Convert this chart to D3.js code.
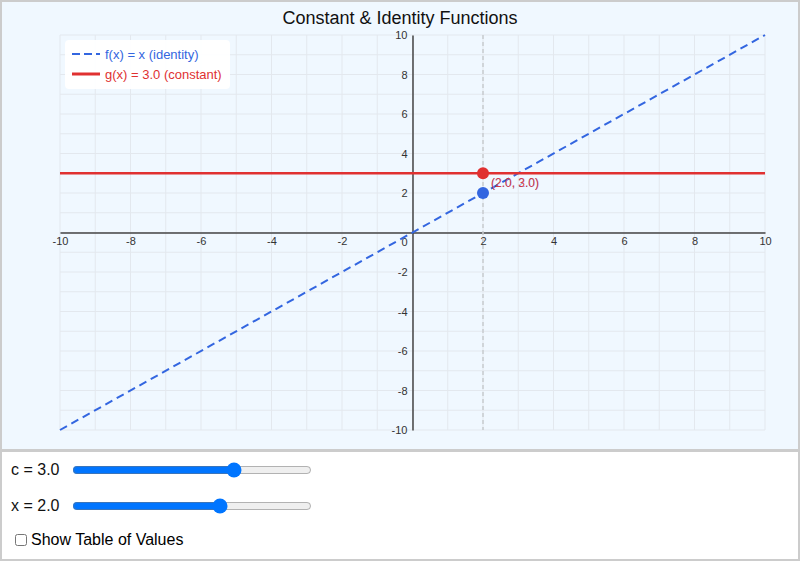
<!DOCTYPE html>
<html>
<head>
<meta charset="utf-8">
<script src="https://cdn.jsdelivr.net/npm/d3@7"></script>
<style>
  html, body { margin: 0; padding: 0; background: #fff; font-family: "Liberation Sans", Arial, Helvetica, sans-serif; }
  #wrap { width: 800px; }
  #chart { display: block; width: 800px; height: 451px; box-sizing: border-box; border: 2px solid #ccc; border-bottom-width: 2px; background: #f0f8ff; }
  #controls { width: 800px; height: 110px; box-sizing: border-box; border: 2px solid #ccc; border-top: 1px solid #ccc; background: #fff; position: relative; }
  .row { position: absolute; left: 9px; font-size: 16px; color: #111; display: flex; align-items: center; }
  .row span { display: inline-block; width: 59px; }
  .row input[type=range] { width: 240px; margin: 0 0 0 2px; }
  .chk { position: absolute; left: 10px; top: 79px; font-size: 16px; display: flex; align-items: center; }
  .chk input { margin: 0 4px 0 3px; width: 12px; height: 12px; }
</style>
</head>
<body>
<div id="wrap">
  <svg id="chart"></svg>
  <div id="controls"></div>
</div>
<script>
// ---- data ----
const titleText = "Constant & Identity Functions";
const xDomain = [-10, 10];
const yDomain = [-10, 10];
const tickLabels = [-10, -8, -6, -4, -2, 0, 2, 4, 6, 8, 10];
const gridValues = [-10,-9,-8,-7,-6,-5,-4,-3,-2,-1,0,1,2,3,4,5,6,7,8,9,10];
const identityX = [-10, 10];
const identityY = [-10, 10];
const cValue = 3.0;
const xValue = 2.0;
const sliderMin = -8, sliderMax = 8;
const legendLabels = ["f(x) = x (identity)", "g(x) = " + cValue.toFixed(1) + " (constant)"];

const blue = "#3366e0";
const red = "#e03131";

const svg = d3.select("#chart");
// svg has a 2px border, so inner coordinates are screen - 2
const pL = 58, pR = 763, pT = 33, pB = 428;
const x = d3.scaleLinear().domain(xDomain).range([pL, pR]);
const y = d3.scaleLinear().domain(yDomain).range([pB, pT]);

// title
svg.append("text").attr("x", 398).attr("y", 21.5).attr("text-anchor", "middle")
  .attr("font-size", 18).attr("fill", "#111").text(titleText);

// grid
const grid = svg.append("g");
grid.selectAll(".gv").data(gridValues).join("line").attr("class", "gv")
  .attr("x1", d => x(d)).attr("x2", d => x(d)).attr("y1", pT).attr("y2", pB)
  .attr("stroke", "#e3e8ee").attr("stroke-width", 1);
grid.selectAll(".gh").data(gridValues).join("line").attr("class", "gh")
  .attr("y1", d => y(d)).attr("y2", d => y(d)).attr("x1", pL).attr("x2", pR)
  .attr("stroke", "#e3e8ee").attr("stroke-width", 1);

// axes through origin
const xAxis = d3.axisBottom(x).tickValues(tickLabels).tickSize(0).tickPadding(5)
  .tickFormat(d => d === 0 ? "" : d);
const gx = svg.append("g").attr("transform", `translate(0,${y(0)})`).call(xAxis);
gx.select(".domain").attr("stroke", "#444").attr("stroke-width", 1.5);
gx.selectAll("text").attr("font-size", 11).attr("fill", "#333").attr("font-family", "Liberation Sans, Arial, sans-serif");

const yAxis = d3.axisLeft(y).tickValues(tickLabels).tickSize(0).tickPadding(5)
  .tickFormat(d => d === 0 ? "" : d);
const gy = svg.append("g").attr("transform", `translate(${x(0)},0)`).call(yAxis);
gy.select(".domain").attr("stroke", "#444").attr("stroke-width", 1.5);
gy.selectAll("text").attr("font-size", 11).attr("fill", "#333").attr("font-family", "Liberation Sans, Arial, sans-serif");

svg.append("text").attr("x", x(0) - 5).attr("y", y(0) + 13).attr("text-anchor", "end")
  .attr("font-size", 11).attr("fill", "#333").text("0");

// vertical guide at x value
svg.append("line").attr("x1", x(xValue)).attr("x2", x(xValue)).attr("y1", pT).attr("y2", pB)
  .attr("stroke", "#c8ccd0").attr("stroke-width", 1.5).attr("stroke-dasharray", "4,3");

// identity line
const line = d3.line().x(d => x(d[0])).y(d => y(d[1]));
svg.append("path").datum(identityX.map((v, i) => [v, identityY[i]]))
  .attr("d", line).attr("fill", "none").attr("stroke", blue).attr("stroke-width", 2)
  .attr("stroke-dasharray", "8,5");

// constant line
svg.append("path").datum(xDomain.map(v => [v, cValue]))
  .attr("d", line).attr("fill", "none").attr("stroke", red).attr("stroke-width", 2.5);

// points
svg.append("circle").attr("cx", x(xValue)).attr("cy", y(cValue)).attr("r", 6).attr("fill", red);
svg.append("circle").attr("cx", x(xValue)).attr("cy", y(xValue)).attr("r", 6).attr("fill", blue);
svg.append("text").attr("x", x(xValue) + 8).attr("y", y(cValue) + 14)
  .attr("font-size", 12).attr("fill", blue).attr("opacity", 0.6)
  .text(`(${xValue.toFixed(1)}, ${xValue.toFixed(1)})`);
svg.append("text").attr("x", x(xValue) + 8).attr("y", y(cValue) + 14)
  .attr("font-size", 12).attr("fill", red).attr("opacity", 0.9)
  .text(`(${xValue.toFixed(1)}, ${cValue.toFixed(1)})`);

// legend
const lg = svg.append("g");
lg.append("rect").attr("x", 63).attr("y", 38).attr("width", 165).attr("height", 49)
  .attr("rx", 4).attr("fill", "#fff").attr("opacity", 0.95);
const legendColors = [blue, red];
const legendDash = ["8,4", null];
const legendWidth = [2, 3];
legendLabels.forEach((t, i) => {
  const yy = 52 + i * 20;
  lg.append("line").attr("x1", 70).attr("x2", 98).attr("y1", yy).attr("y2", yy)
    .attr("stroke", legendColors[i]).attr("stroke-width", legendWidth[i])
    .attr("stroke-dasharray", legendDash[i]);
  lg.append("text").attr("x", 103).attr("y", yy + 4.5).attr("font-size", 13)
    .attr("fill", legendColors[i]).text(t);
});

// controls
const ctr = d3.select("#controls");
[["c", cValue, 9], ["x", xValue, 45]].forEach(([name, val, tp]) => {
  const r = ctr.append("div").attr("class", "row").style("top", tp + "px");
  r.append("span").text(`${name} = ${val.toFixed(1)}`);
  r.append("input").attr("type", "range").attr("min", sliderMin).attr("max", sliderMax)
    .attr("step", 0.1).property("value", val);
});
const ck = ctr.append("label").attr("class", "chk");
ck.append("input").attr("type", "checkbox");
ck.append("span").text("Show Table of Values");
</script>
</body>
</html>
